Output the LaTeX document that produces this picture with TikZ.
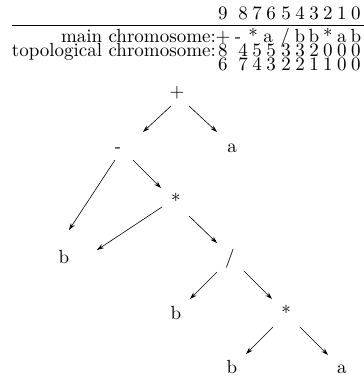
\documentclass[tikz,border=0pt]{standalone}
\usetikzlibrary{calc,arrows.meta}
\newcommand{\bigtxt}[1]{\scalebox{1.9}{#1}}
\begin{document}
\begin{tikzpicture}[x=1pt,y=-1pt,
  txt/.style={inner sep=0pt, anchor=base, font=\fontsize{10}{12}\selectfont},
  lbl/.style={txt, anchor=base east},
  arr/.style={-{Stealth[length=7pt,width=4.5pt]}, line width=0.6pt}]
\useasboundingbox (0,0) rectangle (364,376);
% header
\foreach \x/\ch [count=\i] in {223/9,243/8,257/7,271/6,286/5,300/4,314/3,328/2,342/1,356/0}
  \node[txt] (ra\i) at (\x,19) {\bigtxt{\ch}};
\coordinate (ruleL) at (12,25);
\coordinate (ruleR) at (364,25);
\draw[line width=0.8pt] (ruleL) -- (ruleR);
\node[lbl] (mainlbl) at (216,42) {\bigtxt{main chromosome:}};
\node[lbl] (topolbl) at (216,56) {\bigtxt{topological chromosome:}};
\node[txt] (rb1) at (223,42) {\bigtxt{+}};
\node[txt] (rb2) at (238,42) {\bigtxt{-}};
\node[txt] (rb3) at (253,42) {\bigtxt{*}};
\node[txt] (rb4) at (268,42) {\bigtxt{a}};
\node[txt] (rb5) at (285,42) {\bigtxt{/}};
\node[txt] (rb6) at (300,42) {\bigtxt{b}};
\node[txt] (rb7) at (314,42) {\bigtxt{b}};
\node[txt] (rb8) at (328,42) {\bigtxt{*}};
\node[txt] (rb9) at (342,42) {\bigtxt{a}};
\node[txt] (rb10) at (356,42) {\bigtxt{b}};
\foreach \x/\ch [count=\i] in {223/8,243/4,257/5,271/5,286/3,300/3,314/2,328/0,342/0,356/0}
  \node[txt] (rc\i) at (\x,56) {\bigtxt{\ch}};
\foreach \x/\ch [count=\i] in {223/6,243/7,257/4,271/3,286/2,300/2,314/1,328/1,342/0,356/0}
  \node[txt] (rd\i) at (\x,70) {\bigtxt{\ch}};
% tree
\node[txt] (plus)  at (177,97) {\bigtxt{+}};
\node[txt] (minus) at (118,152) {\bigtxt{-}};
\node[txt] (a1)    at (232,152) {\bigtxt{a}};
\node[txt] (star1) at (176,207) {\bigtxt{*}};
\node[txt] (b1)    at (64,263) {\bigtxt{b}};
\node[txt] (slash) at (230,263) {\bigtxt{/}};
\node[txt] (b2)    at (176,319) {\bigtxt{b}};
\node[txt] (star2) at (286,319) {\bigtxt{*}};
\node[txt] (b3)    at (232,373.5) {\bigtxt{b}};
\node[txt] (a2)    at (342,373.5) {\bigtxt{a}};
\draw[arr] ($(plus.base)+(-6,9)$) -- ($(minus.base)+(25,-20)$);
\draw[arr] ($(plus.base)+(12,9)$) -- ($(a1.base)+(-15,-20)$);
\draw[arr] ($(minus.base)+(-3,8)$) -- ($(b1.base)+(5,-33)$);
\draw[arr] ($(minus.base)+(15,8)$) -- ($(star1.base)+(-15,-19)$);
\draw[arr] ($(star1.base)+(-14,0)$) -- ($(b1.base)+(33,-13)$);
\draw[arr] ($(star1.base)+(13,9)$) -- ($(slash.base)+(-13,-20)$);
\draw[arr] ($(slash.base)+(-13,9)$) -- ($(b2.base)+(14,-20)$);
\draw[arr] ($(slash.base)+(14,8)$) -- ($(star2.base)+(-14,-20)$);
\draw[arr] ($(star2.base)+(-13,8)$) -- ($(b3.base)+(14,-19.5)$);
\draw[arr] ($(star2.base)+(14,8)$) -- ($(a2.base)+(-14,-18.5)$);
\end{tikzpicture}
\end{document}
